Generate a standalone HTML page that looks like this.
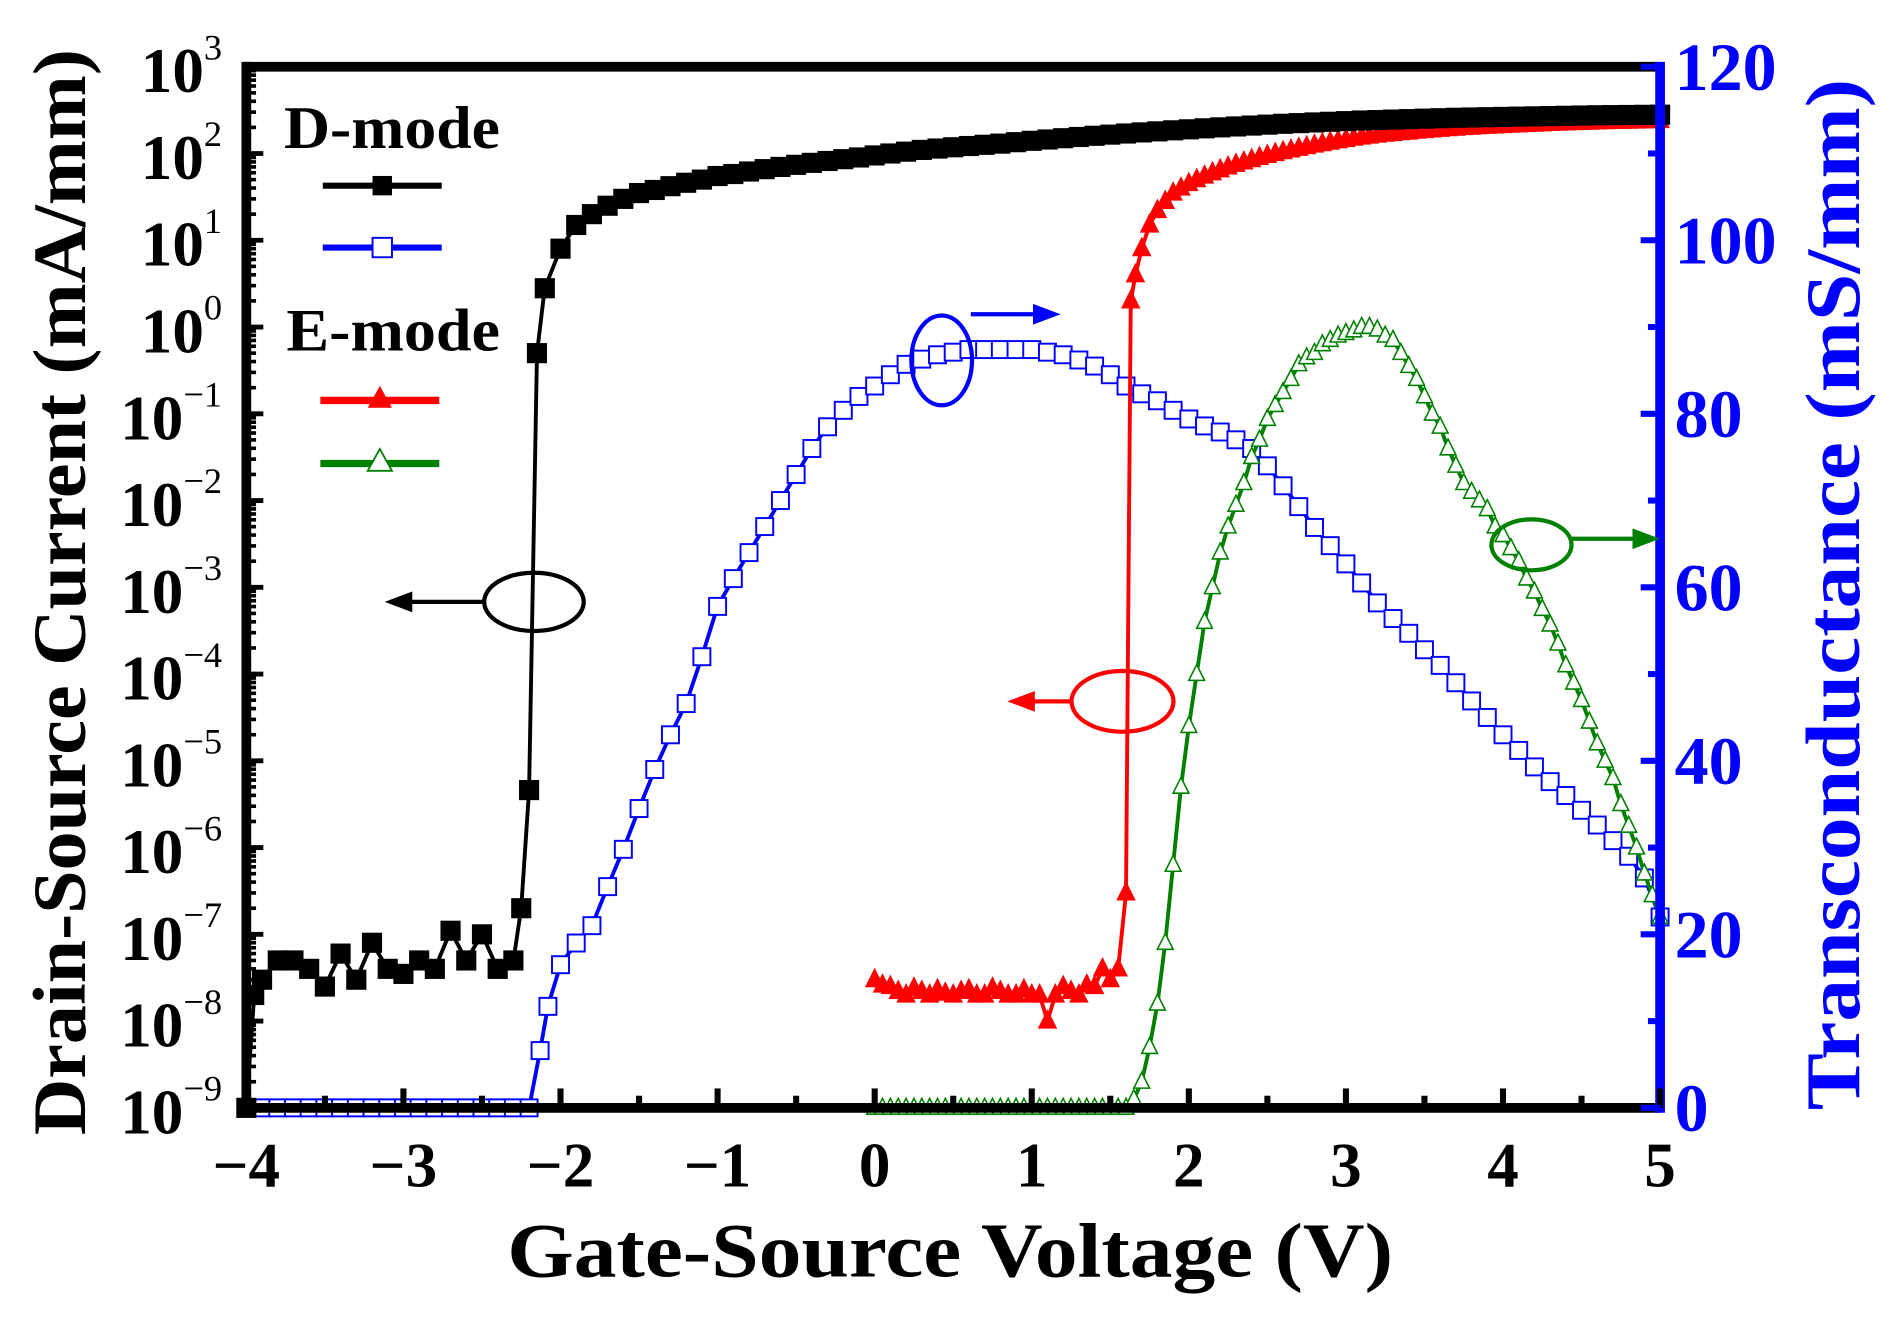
<!DOCTYPE html>
<html><head><meta charset="utf-8"><style>
html,body{margin:0;padding:0;background:#fff;}
svg{display:block;font-family:"Liberation Serif",serif;font-weight:bold;}
</style></head><body>
<svg id="chart" width="1900" height="1319" viewBox="0 0 1565.7 1087" preserveAspectRatio="none" xmlns="http://www.w3.org/2000/svg">
<g id="marks"></g>
<g id="axes"></g>
</svg>
<script>
// ---- data ----
const dVg=[-4.0,-3.95,-3.9,-3.8,-3.7,-3.6,-3.5,-3.4,-3.3,-3.2,-3.1,-3.0,-2.9,-2.8,-2.7,-2.6,-2.5,-2.4,-2.3,-2.25,-2.2,-2.15,-2.1,-2.0,-1.9,-1.8,-1.7,-1.6,-1.5,-1.4,-1.3,-1.2,-1.1,-1.0,-0.9,-0.8,-0.7,-0.6,-0.5,-0.4,-0.3,-0.2,-0.1,0,0.1,0.2,0.3,0.4,0.5,0.6,0.7,0.8,0.9,1.0,1.1,1.2,1.3,1.4,1.5,1.6,1.7,1.8,1.9,2.0,2.1,2.2,2.3,2.4,2.5,2.6,2.7,2.8,2.9,3.0,3.1,3.2,3.3,3.4,3.5,3.6,3.7,3.8,3.9,4.0,4.1,4.2,4.3,4.4,4.5,4.6,4.7,4.8,4.9,5.0];
const dId=[1e-9,2e-8,3e-8,5e-8,5e-8,4e-8,2.5e-8,6e-8,3e-8,8e-8,4e-8,3.5e-8,5e-8,4e-8,1.1e-7,5e-8,1e-7,4e-8,5e-8,2e-7,4.6e-6,0.5,2.8,8,15,20,25,30,35,38,42,46,50,55,58,62,66,70,74,78,82,86,90,95,100,105,110,114,118,122,126,130,135,140,145,150,155,160,165,170,175,180,185,190,195,200,205,210,215,220,224,228,232,236,240,243,246,249,252,255,258,260,262,264,266,268,270,272,274,276,277,278,279,280];
const gmDV=[-4.0,-3.9,-3.8,-3.7,-3.6,-3.5,-3.4,-3.3,-3.2,-3.1,-3.0,-2.9,-2.8,-2.7,-2.6,-2.5,-2.4,-2.3,-2.2,-2.13,-2.08,-2.0,-1.9,-1.8,-1.7,-1.6,-1.5,-1.4,-1.3,-1.2,-1.1,-1.0,-0.9,-0.8,-0.7,-0.6,-0.5,-0.4,-0.3,-0.2,-0.1,0,0.1,0.2,0.3,0.4,0.5,0.6,0.7,0.8,0.9,1.0,1.1,1.2,1.3,1.4,1.5,1.6,1.7,1.8,1.9,2.0,2.1,2.2,2.3,2.4,2.5,2.6,2.7,2.8,2.9,3.0,3.1,3.2,3.3,3.4,3.5,3.6,3.7,3.8,3.9,4.0,4.1,4.2,4.3,4.4,4.5,4.6,4.7,4.8,4.9,5.0];
const gmD=[0,0,0,0,0,0,0,0,0,0,0,0,0,0,0,0,0,0,0,6.6,11.7,16.5,19,21,25.5,29.8,34.5,39,43,46.6,52,57.8,61,64,67,70,73,76,78.5,80.4,82,83.2,84.5,85.7,86.3,86.8,87.1,87.4,87.4,87.4,87.4,87.4,87.1,86.8,86.2,85.5,84.5,83.2,82.3,81.5,80.4,79.4,78.6,77.9,77,76,74,71.7,69.3,66.9,64.8,62.7,60.5,58.2,56.4,54.7,52.8,51,49,46.9,45,43,41.2,39.3,37.6,36,34.3,32.6,30.8,29,26.5,22];
const eVg=[0,0.05,0.1,0.15,0.2,0.25,0.3,0.35,0.4,0.45,0.5,0.55,0.6,0.65,0.7,0.75,0.8,0.85,0.9,0.95,1.0,1.05,1.1,1.15,1.2,1.25,1.3,1.35,1.4,1.45,1.5,1.55,1.6,1.63,1.66,1.7,1.75,1.8,1.85,1.9,1.95,2.0,2.05,2.1,2.15,2.2,2.25,2.3,2.35,2.4,2.45,2.5,2.55,2.6,2.65,2.7,2.75,2.8,2.85,2.9,2.95,3.0,3.05,3.1,3.15,3.2,3.25,3.3,3.35,3.4,3.45,3.5,3.55,3.6,3.65,3.7,3.75,3.8,3.85,3.9,3.95,4.0,4.05,4.1,4.15,4.2,4.25,4.3,4.35,4.4,4.45,4.5,4.55,4.6,4.65,4.7,4.75,4.8,4.85,4.9,4.95,5.0];
const eId=[3e-8,2.6e-8,2.5e-8,2.2e-8,2e-8,2.4e-8,2.2e-8,2e-8,2.3e-8,2.1e-8,2e-8,2.2e-8,2.3e-8,2e-8,2e-8,2.4e-8,2.2e-8,2e-8,2e-8,2.3e-8,2e-8,2e-8,1e-8,2e-8,2.5e-8,2.2e-8,2e-8,2.6e-8,2.5e-8,4e-8,3e-8,4e-8,3e-7,2,4,8,15,22,28,35,40,45,50,55,60,65,70,75,80,85,90,95,100,105,110,115,120,125,130,135,140,145,150,155,159,163,167,170,174,177,181,184,187,190,193,196,199,201,204,206,208,210,212,214,216,218,220,222,224,225,227,228,230,231,233,234,235,236,237,238,239,240];
const gmEV=[0,0.05,0.1,0.15,0.2,0.25,0.3,0.35,0.4,0.45,0.5,0.55,0.6,0.65,0.7,0.75,0.8,0.85,0.9,0.95,1.0,1.05,1.1,1.15,1.2,1.25,1.3,1.35,1.4,1.45,1.5,1.55,1.6,1.65,1.7,1.75,1.8,1.85,1.9,1.95,2.0,2.05,2.1,2.15,2.2,2.25,2.3,2.35,2.4,2.45,2.5,2.55,2.6,2.65,2.7,2.75,2.8,2.85,2.9,2.95,3.0,3.05,3.1,3.15,3.2,3.25,3.3,3.35,3.4,3.45,3.5,3.55,3.6,3.65,3.7,3.75,3.8,3.85,3.9,3.95,4.0,4.05,4.1,4.15,4.2,4.25,4.3,4.35,4.4,4.45,4.5,4.55,4.6,4.65,4.7,4.75,4.8,4.85,4.9,4.95,5.0];
const gmE=[0,0,0,0,0,0,0,0,0,0,0,0,0,0,0,0,0,0,0,0,0,0,0,0,0,0,0,0,0,0,0,0,0,1,3,7,12,19,28,37,44,50,56,60,64,67,69.5,72,75,77,79.4,81,82.5,84,85.7,86.5,87,88,88.5,89,89.3,89.6,90,90,89.7,89,88.5,87,85.5,84,82,80,78.5,76,74,72,71,70,69,67,66,64.5,63,61,59.5,57.5,55.7,53.5,51,49,47,44.5,42,40,38,35,32.5,30,27,24.5,22];
const xTicks=[-4,-3,-2,-1,0,1,2,3,4,5];
const xTickLabels=["\u22124","\u22123","\u22122","\u22121","0","1","2","3","4","5"];
const yExps=[3,2,1,0,-1,-2,-3,-4,-5,-6,-7,-8,-9];
const y2Ticks=[0,20,40,60,80,100,120];

// ---- scales (viewBox coords) ----
const X0=203,X1=1368,YT=55,YB=913;
const xs=v=>X0+(v+4)/9*(X1-X0);
const ys=i=>YT+(3-Math.log10(i))/12*(YB-YT);
const y2=g=>YB-g/120*(YB-YT);
const NS="http://www.w3.org/2000/svg";
const marks=document.getElementById('marks'), axes=document.getElementById('axes');
function mk(tag,attrs,parent){const e=document.createElementNS(NS,tag);for(const k in attrs)e.setAttribute(k,attrs[k]);parent.appendChild(e);return e;}

function series(name,vx,vy,ysc,color,marker,filled,size){
  const g=mk('g',{},marks);
  
  
  const pts=vx.map((v,i)=>xs(v).toFixed(1)+','+ysc(vy[i]).toFixed(1)).join(' ');
  const pl=mk('polyline',{points:pts,fill:'none',stroke:color,'stroke-width':3.2,'stroke-linejoin':'round'},g);
  
  
  vx.forEach((v,i)=>{
    const cx=xs(v),cy=ysc(vy[i]);let m;
    if(marker==='sq'){m=mk('rect',{x:cx-size/2,y:cy-size/2,width:size,height:size,fill:filled?color:'#fff',stroke:color,'stroke-width':1.6},g);}
    else{const h=size;m=mk('polygon',{points:`${cx},${cy-h*0.6} ${cx-h/2},${cy+h*0.4} ${cx+h/2},${cy+h*0.4}`,fill:filled?color:'#fff',stroke:color,'stroke-width':1.3},g);}
    
    
  });
}
series('gm-d-mode',gmDV,gmD,y2,'#0000ff','sq',false,14);
series('gm-e-mode',gmEV,gmE,y2,'#008000','tri',false,13);
series('id-e-mode',eVg,eId,ys,'#ff0000','tri',true,14);
series('id-d-mode',dVg,dId,ys,'#000','sq',true,15);

// ---- axes ----
const frame=mk('g',{},axes);


mk('line',{x1:X0,y1:YT,x2:X1,y2:YT,stroke:'#000','stroke-width':8},frame);
mk('line',{x1:X0,y1:YB,x2:X1,y2:YB,stroke:'#000','stroke-width':8},frame);
mk('line',{x1:X0,y1:YT-4,x2:X0,y2:YB+4,stroke:'#000','stroke-width':8},frame);
mk('line',{x1:X1,y1:YT-4,x2:X1,y2:YB+4,stroke:'#0000ff','stroke-width':8},frame);
for(let v=-4;v<=5;v+=0.5){const x=xs(v);const maj=Number.isInteger(v);mk('line',{x1:x,y1:YB,x2:x,y2:YB-(maj?16:10),stroke:'#000','stroke-width':5},frame);}
xTicks.forEach((v,i)=>{const t=mk('text',{x:xs(v),y:978,'text-anchor':'middle','font-size':52},axes);t.textContent=xTickLabels[i];

});
yExps.forEach(e=>{const y=ys(Math.pow(10,e));mk('line',{x1:X0,y1:y,x2:X0+14,y2:y,stroke:'#000','stroke-width':4},frame);
 if(e>-9)for(let k=2;k<=9;k++){const yy=ys(k*Math.pow(10,e-1));mk('line',{x1:X0,y1:yy,x2:X0+8,y2:yy,stroke:'#000','stroke-width':3},frame);}
 const t=mk('text',{x:183,y:y+21,'text-anchor':'end','font-size':52},axes);
 
 
 const a=mk('tspan',{},t);a.textContent='10';const b=mk('tspan',{dy:-27,'font-size':30,'font-weight':'normal'},t);b.textContent=(e<0?'\u2212'+(-e):String(e));});
for(let g=0;g<=120;g+=10){const y=y2(g);mk('line',{x1:X1,y1:y,x2:X1-(g%20===0?16:10),y2:y,stroke:'#0000ff','stroke-width':5},frame);}
y2Ticks.forEach(g=>{const t=mk('text',{x:1380,y:y2(g)+19,'font-size':56,fill:'#0000ff'},axes);t.textContent=String(g);

});
</script>
<svg style="position:absolute;left:0;top:0" width="1900" height="1319" viewBox="0 0 1565.7 1087" preserveAspectRatio="none" xmlns="http://www.w3.org/2000/svg" font-family="Liberation Serif, serif" font-weight="bold">
<text transform="translate(70,488) rotate(-90)" text-anchor="middle" font-size="62" textLength="895" lengthAdjust="spacingAndGlyphs">Drain-Source Current (mA/mm)</text>
<text transform="translate(1532,490) rotate(-90)" text-anchor="middle" font-size="64" fill="#0000ff" textLength="850" lengthAdjust="spacingAndGlyphs">Transconductance (mS/mm)</text>
<text x="783" y="1052" text-anchor="middle" font-size="64" textLength="730" lengthAdjust="spacingAndGlyphs">Gate-Source Voltage (V)</text>
<g>
<text x="234" y="122" font-size="50" textLength="178" lengthAdjust="spacingAndGlyphs">D-mode</text>
<g><line x1="266" y1="153" x2="364" y2="153" stroke="#000" stroke-width="5"/><rect x="307" y="145" width="16" height="16" fill="#000"/></g>
<g><line x1="266" y1="204" x2="364" y2="204" stroke="#0000ff" stroke-width="5"/><rect x="307" y="196" width="16" height="16" fill="#fff" stroke="#0000ff" stroke-width="1.6"/></g>
<text x="236" y="289" font-size="50" textLength="176" lengthAdjust="spacingAndGlyphs">E-mode</text>
<g><line x1="264" y1="330" x2="362" y2="330" stroke="#ff0000" stroke-width="6"/><polygon points="313,318 303,336 323,336" fill="#ff0000"/></g>
<g><line x1="264" y1="382" x2="362" y2="382" stroke="#008000" stroke-width="6"/><polygon points="313,370 303,388 323,388" fill="#fff" stroke="#008000" stroke-width="1.5"/></g>
</g>
<g stroke="#000" stroke-width="3.5" fill="none">
<ellipse cx="440" cy="496" rx="41" ry="24"/><line x1="399" y1="496" x2="335" y2="496"/><polygon points="322,496 338,490 338,502" fill="#000"/></g>
<g stroke="#0000ff" stroke-width="3.5" fill="none">
<ellipse cx="776" cy="297" rx="25" ry="37"/><line x1="800" y1="259" x2="856" y2="259"/><polygon points="869,259 853,253 853,265" fill="#0000ff"/></g>
<g stroke="#ff0000" stroke-width="3.5" fill="none">
<ellipse cx="925" cy="578" rx="42" ry="25"/><line x1="883" y1="578" x2="848" y2="578"/><polygon points="835,578 851,572 851,584" fill="#ff0000"/></g>
<g stroke="#008000" stroke-width="3.5" fill="none">
<ellipse cx="1262" cy="449" rx="33" ry="21"/><line x1="1295" y1="444" x2="1350" y2="444"/><polygon points="1363,444 1347,438 1347,450" fill="#008000"/></g>
</svg>
</body></html>
